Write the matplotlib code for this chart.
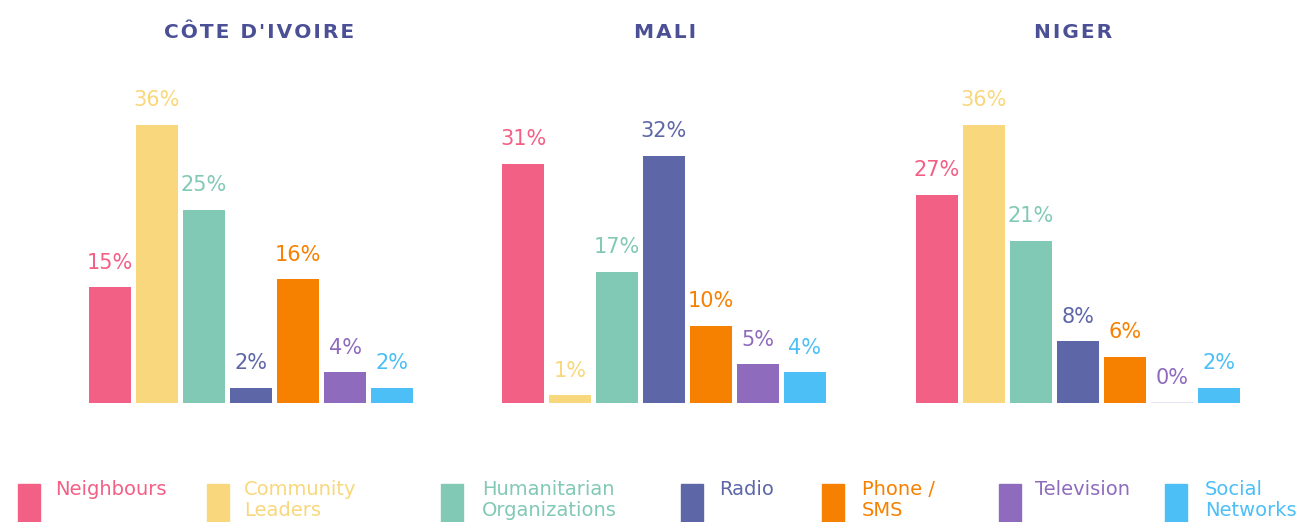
import matplotlib.pyplot as plt
from matplotlib.patches import Rectangle

plt.rcParams['font.family'] = ['DejaVu Sans']

countries = ["CÔTE D'IVOIRE", 'MALI', 'NIGER']
channels = ['Neighbours', 'Community\nLeaders', 'Humanitarian\nOrganizations',
            'Radio', 'Phone /\nSMS', 'Television', 'Social\nNetworks']
cote_divoire = [15, 36, 25, 2, 16, 4, 2]
mali = [31, 1, 17, 32, 10, 5, 4]
niger = [27, 36, 21, 8, 6, 0, 2]
colors = ['#f26085', '#f9d77c', '#82c9b5', '#5d67a8', '#f68100', '#8f6bbd', '#4bbff6']
title_color = '#4b5096'

W, H = 1303, 522
fig = plt.figure(figsize=(W / 100, H / 100), dpi=100)

# pixel layout of each panel: left edge of axes, baseline y, px per unit
panel_left = [86.5, 499.5, 913.5]
title_x = [259, 665, 1073]
pitch = 47
baseline = 403
px_per_pct = 7.72
ymax = 40

for name, vals, left, tx in zip(countries, [cote_divoire, mali, niger], panel_left, title_x):
    ax = fig.add_axes([left / W, (H - baseline) / H, 7 * pitch / W, ymax * px_per_pct / H])
    x = list(range(len(vals)))
    bars = ax.bar(x, vals, width=0.9, color=colors)
    for b, v, c in zip(bars, vals, colors):
        if v == 0:
            b.set_edgecolor('#e3def0')
            b.set_linewidth(1.2)
        ax.annotate(f'{v}%', (b.get_x() + b.get_width() / 2, v), xytext=(0, 10.5),
                    textcoords='offset points', ha='center', va='bottom',
                    color=c, fontsize=15, fontweight='medium', annotation_clip=False)
    ax.set_xlim(-0.5, 6.5)
    ax.set_ylim(0, ymax)
    ax.axis('off')
    spaced = '\u200a'.join(name)
    fig.text(tx / W, 1 - 32 / H, spaced, ha='center', va='center', color=title_color,
             fontsize=14.5, fontweight='bold')

# legend drawn by hand along the bottom
swatch_x = [18, 207, 441, 681, 822, 999, 1165]
label_x = [55, 244, 482, 719, 862, 1035, 1205]
for sx, lx, lab, c in zip(swatch_x, label_x, channels, colors):
    fig.patches.append(Rectangle((sx / W, 0), 22 / W, (H - 484) / H,
                                 transform=fig.transFigure, color=c))
    fig.text(lx / W, 1 - 480 / H, lab, ha='left', va='top', color=c,
             fontsize=14, linespacing=1.1)

fig.savefig('out.png', dpi=100)
